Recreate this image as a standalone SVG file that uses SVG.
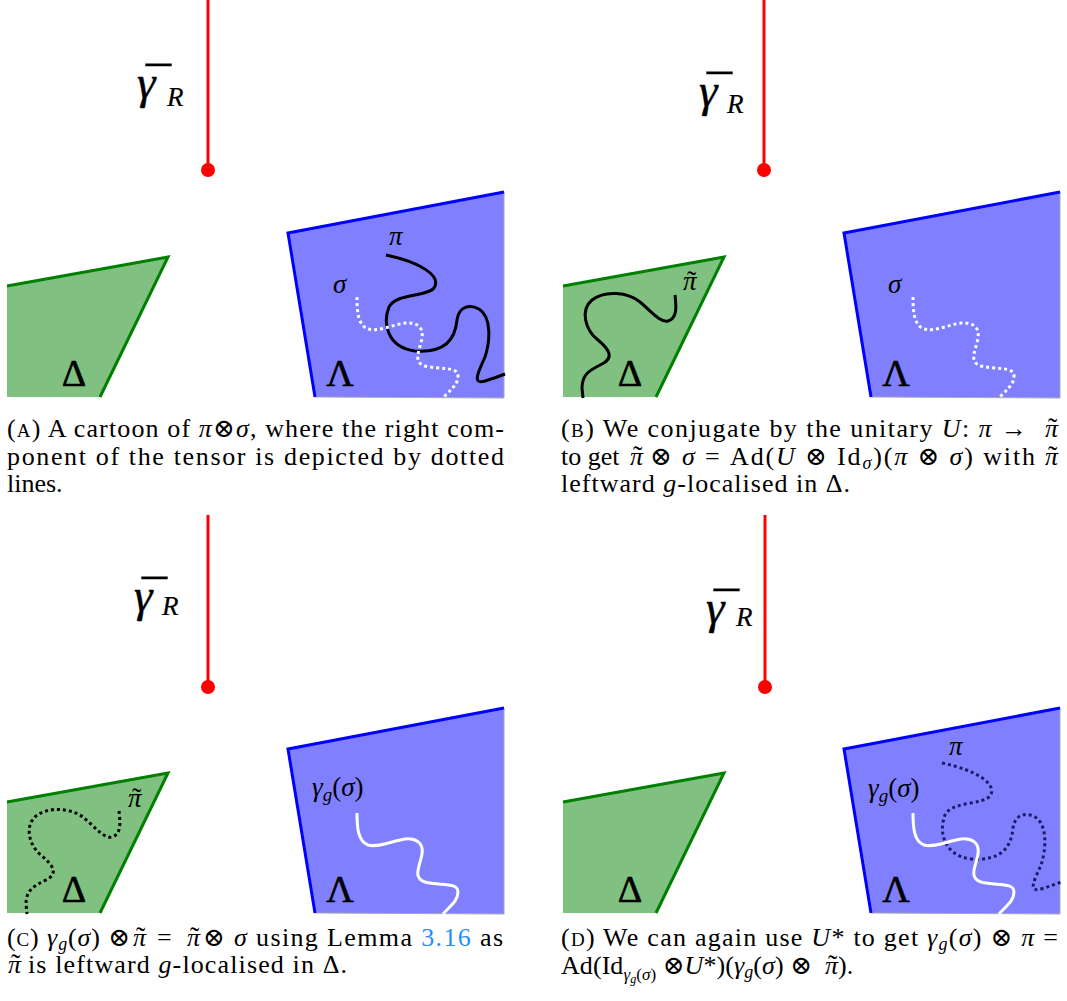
<svg xmlns="http://www.w3.org/2000/svg" width="1067" height="1001" viewBox="0 0 1067 1001">
<style>
.gfill{fill:#80c080;stroke:none}
.gedge{fill:none;stroke:#008000;stroke-width:3;stroke-linejoin:miter}
.bfill{fill:#8080ff;stroke:none}
.bedge{fill:none;stroke:#0000ff;stroke-width:3;stroke-linejoin:miter}
.bclip{fill:none;stroke:#a8a8b0;stroke-width:1}
.red{stroke:#ff0000;stroke-width:3}
.dot{fill:#ff0000}
.sk{fill:none;stroke:#000;stroke-width:3}
.sw{fill:none;stroke:#fff;stroke-width:3}
.dw{fill:none;stroke:#fff;stroke-width:3;stroke-dasharray:3 3}
.dk{fill:none;stroke:#000;stroke-width:3;stroke-dasharray:3 3}
.dn{fill:none;stroke:#1c1c66;stroke-width:3;stroke-dasharray:3 3}
text{font-family:"Liberation Serif","DejaVu Serif",serif;fill:#000}
.lbl{font-style:italic;font-size:27px}
.tl{font-size:28px;font-style:normal}
.gam{font-style:italic;font-size:47px;stroke:#000;stroke-width:0.4}
.mac{font-size:50px;font-style:normal}
.sub{font-style:italic;font-size:27px;stroke-width:0.2}
.up{font-size:38px;text-anchor:middle;stroke:#000;stroke-width:0.6}
.cap{font-size:26px}
.m{font-style:italic}
.sc{font-size:19px}
.link{fill:#1f8fff}
</style>
<defs>
<g id="green">
<polygon class="gfill" points="7,286 168,257 100,397 7,397"/>
<polyline class="gedge" points="7,286 168,257 100,397"/>
</g>
<g id="blue">
<polygon class="bfill" points="288,233 504,192 504,398 315,397"/>
<polyline class="bclip" points="504,192 504,398 315,397"/>
<polyline class="bedge" points="315,397 288,233 504,192"/>
</g>
<path id="piPath" d="M386,255 C420,262 442,276 434,288 C427,297 396,293 389,307 C383,322 386,347 415,351 C445,353 455,340 457,320 C459,306 470,304 479,309 C492,317 490,342 485,357 C479,371 471,385 485,381 C495,378 500,376 505,374"/>
<path id="sigPath" d="M357,297 C357,312 358,325 368,329 C378,332 392,325 405,323 C415,322 424,326 422,338 C420,350 412,362 425,366 C440,370 458,366 458,376 C458,385 450,390 443,398"/>
<path id="ptPath" d="M675,295 C676,305 678,318 668,321 C660,323 650,310 640,302 C628,292 605,290 592,300 C580,310 585,330 598,340 C610,350 614,358 602,364 C590,370 582,374 582,388 L583,398"/>
</defs>

<!-- Panel A -->
<g id="panel-a">
<g id="a-delta"><use href="#green"/><text class="up" x="74" y="386">Δ</text></g>
<g id="a-lambda"><use href="#blue"/><text class="up" x="340" y="386">Λ</text></g>
<g id="a-curves">
<use href="#piPath" class="sk"/>
<use href="#sigPath" class="dw"/>
<text class="lbl" x="389" y="245">π</text>
<text class="lbl" x="333" y="293">σ</text>
</g>
<g id="a-gamma">
<line class="red" x1="208" y1="0" x2="208" y2="170"/>
<circle class="dot" cx="208" cy="170" r="7"/>
<text class="gam" x="137" y="98">γ<tspan class="mac" x="146" dy="4">¯</tspan><tspan class="sub" x="167" dy="4">R</tspan></text>
</g>
</g>

<!-- Panel B -->
<g id="panel-b">
<g id="b-delta"><use href="#green" transform="translate(556,0)"/><text class="up" x="630" y="386">Δ</text></g>
<g id="b-lambda"><use href="#blue" transform="translate(556,0)"/><text class="up" x="896" y="386">Λ</text></g>
<g id="b-curves">
<use href="#ptPath" class="sk"/>
<use href="#sigPath" class="dw" transform="translate(556,0)"/>
<text class="lbl" x="683" y="290">π<tspan class="tl" x="687" dy="0">˜</tspan></text>
<text class="lbl" x="888" y="293">σ</text>
</g>
<g id="b-gamma">
<line class="red" x1="764" y1="0" x2="764" y2="170"/>
<circle class="dot" cx="764" cy="170" r="7"/>
<text class="gam" x="699" y="106">γ<tspan class="mac" x="707" dy="4">¯</tspan><tspan class="sub" x="727" dy="3">R</tspan></text>
</g>
</g>

<!-- Panel C -->
<g id="panel-c">
<g id="c-delta"><use href="#green" transform="translate(0,516)"/><text class="up" x="74" y="902">Δ</text></g>
<g id="c-lambda"><use href="#blue" transform="translate(0,516)"/><text class="up" x="340" y="902">Λ</text></g>
<g id="c-curves">
<use href="#ptPath" class="dk" transform="translate(-556,516)"/>
<use href="#sigPath" class="sw" transform="translate(0,516)"/>
<text class="lbl" x="128" y="807">π<tspan class="tl" x="132" dy="0">˜</tspan></text>
<text class="lbl" x="312" y="796">γ<tspan font-size="19" dy="5">g</tspan><tspan font-style="normal" dy="-5">(</tspan>σ<tspan font-style="normal">)</tspan></text>
</g>
<g id="c-gamma">
<line class="red" x1="208" y1="515" x2="208" y2="687"/>
<circle class="dot" cx="208" cy="687" r="7"/>
<text class="gam" x="134" y="611">γ<tspan class="mac" x="142" dy="4">¯</tspan><tspan class="sub" x="162" dy="0">R</tspan></text>
</g>
</g>

<!-- Panel D -->
<g id="panel-d">
<g id="d-delta"><use href="#green" transform="translate(556,516)"/><text class="up" x="630" y="902">Δ</text></g>
<g id="d-lambda"><use href="#blue" transform="translate(556,516)"/><text class="up" x="896" y="902">Λ</text></g>
<g id="d-curves">
<use href="#piPath" class="dn" transform="translate(556,508)"/>
<use href="#sigPath" class="sw" transform="translate(556,516)"/>
<text class="lbl" x="949" y="755">π</text>
<text class="lbl" x="868" y="797">γ<tspan font-size="19" dy="5">g</tspan><tspan font-style="normal" dy="-5">(</tspan>σ<tspan font-style="normal">)</tspan></text>
</g>
<g id="d-gamma">
<line class="red" x1="765" y1="515" x2="765" y2="687"/>
<circle class="dot" cx="765" cy="687" r="7"/>
<text class="gam" x="706" y="623">γ<tspan class="mac" x="714" dy="4">¯</tspan><tspan class="sub" x="736" dy="-1">R</tspan></text>
</g>
</g>

<!-- Captions -->
<g id="caption-a">
<text class="cap" x="7" y="437" textLength="497" lengthAdjust="spacing">(<tspan class="sc">A</tspan>) A cartoon of <tspan class="m">π</tspan>⊗<tspan class="m">σ</tspan>, where the right com-</text>
<text class="cap" x="7" y="465" textLength="497" lengthAdjust="spacing">ponent of the tensor is depicted by dotted</text>
<text class="cap" x="7" y="492">lines.</text>
</g>

<g id="caption-b">
<text class="cap" x="561" y="437" textLength="466" lengthAdjust="spacing">(<tspan class="sc">B</tspan>) We conjugate by the unitary <tspan class="m">U</tspan>: <tspan class="m">π</tspan> →</text>
<text class="cap m" x="1045" y="437">π<tspan class="tl" x="1048" dy="0">˜</tspan></text>
<text class="cap" x="561" y="465">to get</text>
<text class="cap m" x="630" y="465">π<tspan class="tl" x="633" dy="0">˜</tspan></text>
<text class="cap" x="650" y="465" textLength="385" lengthAdjust="spacing">⊗ <tspan class="m">σ</tspan> = Ad(<tspan class="m">U</tspan> ⊗ Id<tspan class="m" font-size="18" dy="4">σ</tspan><tspan dy="-4">)(</tspan><tspan class="m">π</tspan> ⊗ <tspan class="m">σ</tspan>) with</text>
<text class="cap m" x="1045" y="465">π<tspan class="tl" x="1048" dy="0">˜</tspan></text>
<text class="cap" x="561" y="492" textLength="289" lengthAdjust="spacing">leftward <tspan class="m">g</tspan>-localised in Δ.</text>
</g>

<g id="caption-c">
<text class="cap" x="7" y="946" textLength="123" lengthAdjust="spacing">(<tspan class="sc">C</tspan>) <tspan class="m">γ</tspan><tspan class="m" font-size="18" dy="4">g</tspan><tspan dy="-4">(</tspan><tspan class="m">σ</tspan>) ⊗</text>
<text class="cap m" x="133" y="946">π<tspan class="tl" x="136" dy="0">˜</tspan></text>
<text class="cap" x="157" y="946">=</text>
<text class="cap m" x="187" y="946">π<tspan class="tl" x="190" dy="0">˜</tspan></text>
<text class="cap" x="203" y="946" textLength="300" lengthAdjust="spacing">⊗ <tspan class="m">σ</tspan> using Lemma <tspan class="link">3.16</tspan> as</text>
<text class="cap m" x="8" y="973">π<tspan class="tl" x="11" dy="0">˜</tspan></text>
<text class="cap" x="28" y="973" textLength="319" lengthAdjust="spacing">is leftward <tspan class="m">g</tspan>-localised in Δ.</text>
</g>

<g id="caption-d">
<text class="cap" x="561" y="946" textLength="497" lengthAdjust="spacing">(<tspan class="sc">D</tspan>) We can again use <tspan class="m">U</tspan>* to get <tspan class="m">γ</tspan><tspan class="m" font-size="18" dy="4">g</tspan><tspan dy="-4">(</tspan><tspan class="m">σ</tspan>) ⊗ <tspan class="m">π</tspan> =</text>
<text class="cap" x="561" y="974" textLength="251" lengthAdjust="spacing">Ad(Id<tspan class="m" font-size="17" dy="6">γ</tspan><tspan class="m" font-size="12" dy="3">g</tspan><tspan font-size="17" dy="-3">(</tspan><tspan class="m" font-size="17">σ</tspan><tspan font-size="17">)</tspan><tspan dy="-6"> ⊗</tspan><tspan class="m">U</tspan>*)(<tspan class="m">γ</tspan><tspan class="m" font-size="18" dy="4">g</tspan><tspan dy="-4">(</tspan><tspan class="m">σ</tspan>) ⊗</text>
<text class="cap m" x="825" y="974">π<tspan class="tl" x="828" dy="0">˜</tspan></text>
<text class="cap" x="838" y="974">).</text>
</g>
</svg>
